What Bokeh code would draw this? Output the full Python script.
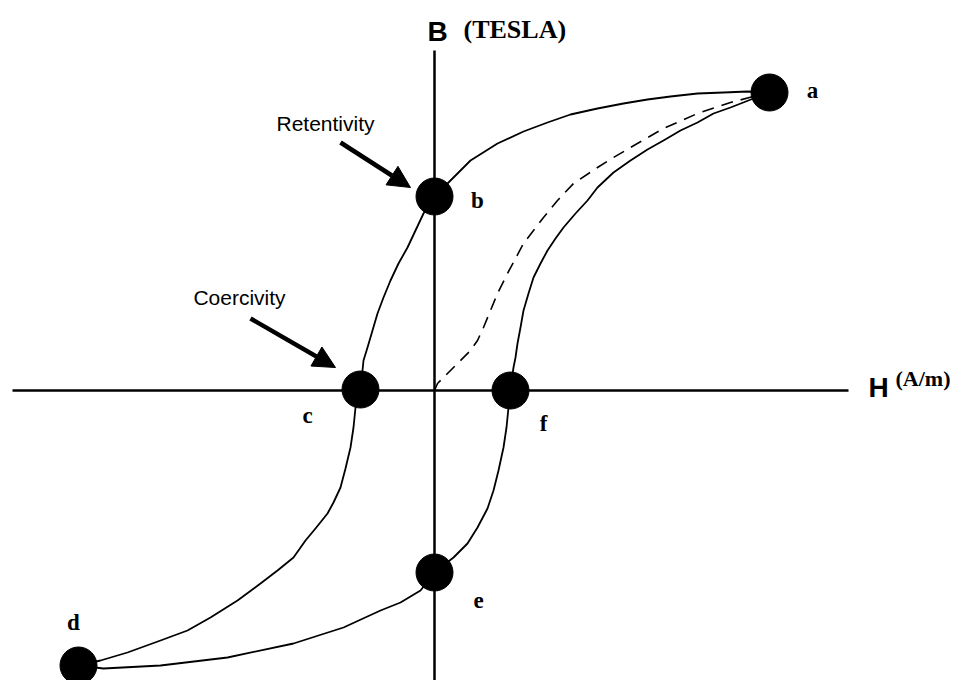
from bokeh.plotting import figure
from bokeh.models import Range1d, Arrow, NormalHead
from bokeh.core.properties import value
from bokeh.embed import file_html
from bokeh.resources import INLINE

# ---- data (H, B in arbitrary diagram units; origin at axes crossing) ----
# descending branch a -> b -> c -> d
desc_H = [335, 313, 289, 263, 236, 213, 189, 163, 136, 113, 89, 63, 36, 16, 0,
          -11, -19, -27, -36, -44, -51, -57, -62, -67, -71, -72, -74,
          -79, -81, -84, -89, -94, -101, -107, -119, -129, -141, -157, -174,
          -197, -224, -247, -274, -307, -334, -356]
desc_B = [298, 299, 298, 297, 294, 291, 287, 282, 276, 268, 259, 247, 230, 210, 194,
          177, 160, 143, 127, 110, 93, 77, 60, 43, 30, 20, 1,
          -17, -37, -57, -78, -97, -112, -123, -138, -150, -167, -180, -193,
          -210, -227, -240, -250, -262, -270, -275]
# ascending branch d -> e -> f -> a
asc_H = [-356, -331, -274, -207, -141, -91, -54, -34, -14, 0, 19, 33, 43, 53, 59, 64,
         69, 72, 74, 76, 79, 81, 83, 86, 89, 94, 99, 106, 113, 121, 129, 141, 153,
         163, 179, 196, 213, 229, 246, 263, 279, 296, 319, 335]
asc_B = [-275, -278, -275, -267, -253, -237, -220, -212, -200, -182, -167, -153, -137,
         -118, -100, -80, -57, -37, -17, 2, 23, 33, 47, 63, 80, 97, 113, 127, 140, 152,
         163, 177, 190, 203, 218, 230, 241, 250, 260, 268, 277, 283, 292, 298]
# initial magnetisation curve (dashed)
init_H = [0, 3, 13, 23, 36, 43, 49, 56, 63, 73, 81, 89, 99, 109, 123, 139, 163, 179,
          196, 229, 263, 296, 319, 335]
init_B = [0, 7, 17, 27, 40, 50, 63, 80, 97, 117, 132, 147, 160, 173, 190, 207, 223,
          233, 243, 262, 277, 288, 294, 298]

# key points
pt_names = ["a", "b", "c", "d", "e", "f"]
pt_H = [335, 0, -74, -356, 0, 76]
pt_B = [298, 194, 1, -275, -182, 0]
lab_H = [378, 43, -127, -361, 44, 109]
lab_B = [300, 190, -25, -232, -210, -33]

# axes extents
h_axis_H = [-422, 414]
h_axis_B = [0, 0]
v_axis_H = [0, 0]
v_axis_B = [340, -300]

# annotations
note_text = ["Retentivity", "Coercivity"]
note_H = [-109, -195]
note_B = [267, 93]
arrow_from_H = [-94, -184]
arrow_from_B = [248, 72]
arrow_to_H = [-24, -99]
arrow_to_B = [203, 23]

p = figure(width=960, height=680, output_backend="svg", toolbar_location=None,
           x_range=Range1d(-434, 526), y_range=Range1d(-290, 390),
           min_border=0, outline_line_color=None)
p.axis.visible = False
p.grid.visible = False

# axes lines
p.line(h_axis_H, h_axis_B, line_color="black", line_width=2.5)
p.line(v_axis_H, v_axis_B, line_color="black", line_width=2.5)

# curves
p.line(desc_H, desc_B, line_color="black", line_width=1.8, line_join="round")
p.line(asc_H, asc_B, line_color="black", line_width=1.8, line_join="round")
p.line(init_H, init_B, line_color="black", line_width=1.6, line_dash="12 8",
       line_join="round")

# dots
p.scatter(pt_H, pt_B, size=37, fill_color="black", line_color="black")

# point labels
p.text(x=lab_H, y=lab_B, text=pt_names, text_font=value("Liberation Serif"),
       text_font_style="bold", text_font_size="23px", text_align="center",
       text_baseline="middle", text_color="black")

# annotation texts
p.text(x=note_H, y=note_B, text=note_text, text_font=value("Liberation Sans"),
       text_font_size="21px", text_align="center", text_baseline="middle",
       text_color="black")

for xs, ys, xe, ye in zip(arrow_from_H, arrow_from_B, arrow_to_H, arrow_to_B):
    p.add_layout(Arrow(end=NormalHead(size=22, fill_color="black", line_color="black"),
                       x_start=xs, y_start=ys, x_end=xe, y_end=ye,
                       line_width=4.5, line_color="black"))

# axis titles
p.text(x=[3], y=[359], text=["B"], text_font=value("Liberation Sans"),
       text_font_style="bold", text_font_size="28px", text_align="center",
       text_baseline="middle", text_color="black")
p.text(x=[29], y=[361], text=["(TESLA)"], text_font=value("Liberation Serif"),
       text_font_style="bold", text_font_size="26px", text_align="left",
       text_baseline="middle", text_color="black")
p.text(x=[444], y=[3], text=["H"], text_font=value("Liberation Sans"),
       text_font_style="bold", text_font_size="28px", text_align="center",
       text_baseline="middle", text_color="black")
p.text(x=[461], y=[12], text=["(A/m)"], text_font=value("Liberation Serif"),
       text_font_style="bold", text_font_size="22px", text_align="left",
       text_baseline="middle", text_color="black")

open("out.html", "w").write(file_html(p, INLINE))
